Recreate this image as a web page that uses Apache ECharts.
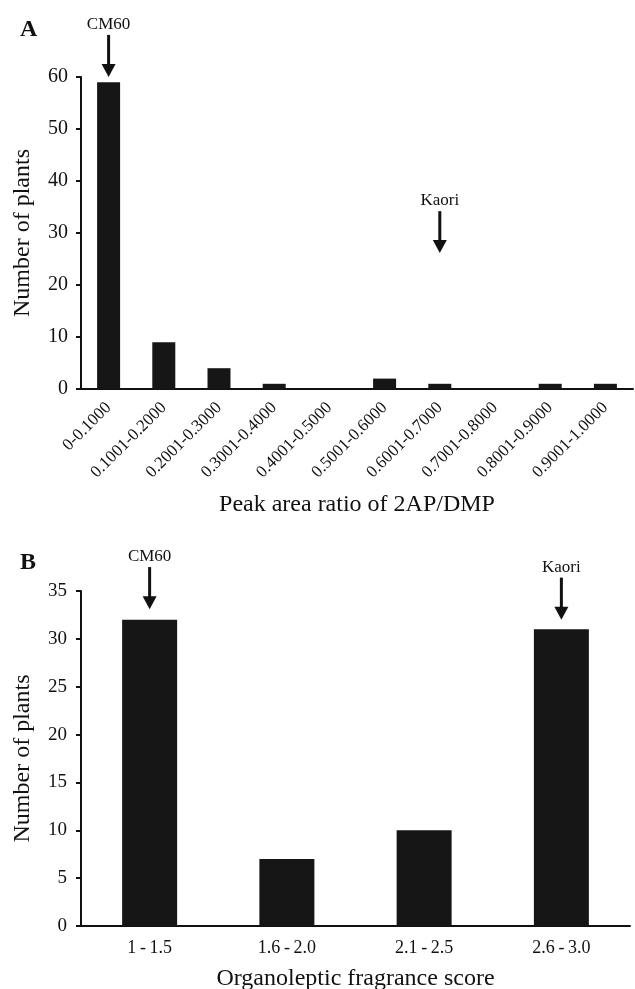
<!DOCTYPE html>
<html lang="en">
<head>
  <meta charset="UTF-8">
  <title>2AP/DMP and fragrance score</title>
  <script src="https://cdn.jsdelivr.net/npm/echarts@6/dist/echarts.min.js"></script>
  <style>
    html, body { margin: 0; padding: 0; background: #fff; }
  </style>
</head>
<body>
<div id="main" style="width: 635px;height: 989px"></div>
<script>
  // panel A
  const ratioBins = ['0-0.1000', '0.1001-0.2000', '0.2001-0.3000', '0.3001-0.4000', '0.4001-0.5000',
    '0.5001-0.6000', '0.6001-0.7000', '0.7001-0.8000', '0.8001-0.9000', '0.9001-1.0000'];
  const ratioCounts = [59, 9, 4, 1, 0, 2, 1, 0, 1, 1];
  // panel B
  const scoreBins = ['1-1.5', '1.6-2.0', '2.1-2.5', '2.6-3.0'];
  const scoreCounts = [32, 7, 10, 31];
  // arrows: [category, arrow start value, arrow tip value, label]
  const arrowsA = [['0-0.1000', 68.1, 60, 'CM60'], ['0.6001-0.7000', 34.2, 26.15, 'Kaori']];
  const arrowsB = [['1-1.5', 37.5, 33.1, 'CM60'], ['2.6-3.0', 36.4, 32.0, 'Kaori']];

  const font = 'Liberation Serif, Times New Roman, serif';
  const ink = '#111';

  // arrow drawn through the axes (api.coord), allowed to sit above the axis max
  function renderArrow(params, api) {
    var cat = api.value(0);
    var p0 = api.coord([cat, api.value(1)]);
    var p1 = api.coord([cat, api.value(2)]);
    var head = 13, half = 7;
    return {
      type: 'group',
      children: [
        { type: 'line', shape: { x1: p0[0], y1: p0[1], x2: p1[0], y2: p1[1] - head + 1 },
          style: { stroke: ink, lineWidth: 3 } },
        { type: 'polygon', shape: { points: [[p1[0] - half, p1[1] - head], [p1[0] + half, p1[1] - head], [p1[0], p1[1]]] },
          style: { fill: ink } },
        { type: 'text', x: p0[0], y: p0[1] - 2,
          style: { text: api.value(3), fill: ink, font: '17px ' + font, align: 'center', verticalAlign: 'bottom' } }
      ]
    };
  }

  function yAxis(gridIndex, max, interval, size, margin) {
    return {
      gridIndex: gridIndex, type: 'value', min: 0, max: max, interval: interval,
      name: 'Number of plants', nameLocation: 'middle', nameGap: 46,
      nameTextStyle: { fontFamily: font, fontSize: 24, color: ink },
      axisLine: { show: true, lineStyle: { color: ink, width: 2 } },
      axisTick: { show: true, length: 5, lineStyle: { color: ink, width: 2 } },
      axisLabel: { fontFamily: font, fontSize: size, color: ink, margin: margin },
      splitLine: { show: false }
    };
  }

  var chart = echarts.init(document.getElementById('main'));
  var option = {
    backgroundColor: '#fff',
    animation: false,
    title: [
      { text: 'A', left: 15, top: 13, textStyle: { fontFamily: font, fontSize: 24, fontWeight: 'bold', color: ink } },
      { text: 'B', left: 15, top: 546, textStyle: { fontFamily: font, fontSize: 24, fontWeight: 'bold', color: ink } }
    ],
    grid: [
      { left: 81, right: 2, top: 77, height: 312, outerBoundsMode: 'none' },
      { left: 81, right: 5, top: 591, height: 335, outerBoundsMode: 'none' }
    ],
    xAxis: [
      {
        gridIndex: 0, type: 'category', data: ratioBins,
        name: 'Peak area ratio of 2AP/DMP', nameLocation: 'middle', nameGap: 104,
        nameTextStyle: { fontFamily: font, fontSize: 24, color: ink },
        axisLine: { lineStyle: { color: ink, width: 2 } },
        axisTick: { length: 5, lineStyle: { color: ink, width: 2 } },
        axisLabel: { fontFamily: font, fontSize: 17, color: ink, rotate: 45, interval: 0, margin: 16 }
      },
      {
        gridIndex: 1, type: 'category', data: scoreBins,
        name: 'Organoleptic fragrance score', nameLocation: 'middle', nameGap: 41,
        nameTextStyle: { fontFamily: font, fontSize: 24, color: ink },
        axisLine: { lineStyle: { color: ink, width: 2 } },
        axisTick: { length: 5, lineStyle: { color: ink, width: 2 } },
        axisLabel: {
          fontFamily: font, fontSize: 18, color: ink, margin: 13,
          formatter: function (v) { return v.replace('-', '\u2009-\u2009'); }
        }
      }
    ],
    yAxis: [yAxis(0, 60, 10, 20, 13), yAxis(1, 35, 5, 19, 14)],
    series: [
      {
        type: 'bar', xAxisIndex: 0, yAxisIndex: 0, data: ratioCounts, barWidth: 23,
        itemStyle: { color: '#161616' }
      },
      {
        type: 'bar', xAxisIndex: 1, yAxisIndex: 1, data: scoreCounts, barWidth: 55,
        itemStyle: { color: '#161616' }
      },
      {
        type: 'custom', xAxisIndex: 0, yAxisIndex: 0, clip: false, silent: true,
        renderItem: renderArrow, data: arrowsA
      },
      {
        type: 'custom', xAxisIndex: 1, yAxisIndex: 1, clip: false, silent: true,
        renderItem: renderArrow, data: arrowsB
      }
    ]
  };
  chart.setOption(option);
</script>
</body>
</html>
